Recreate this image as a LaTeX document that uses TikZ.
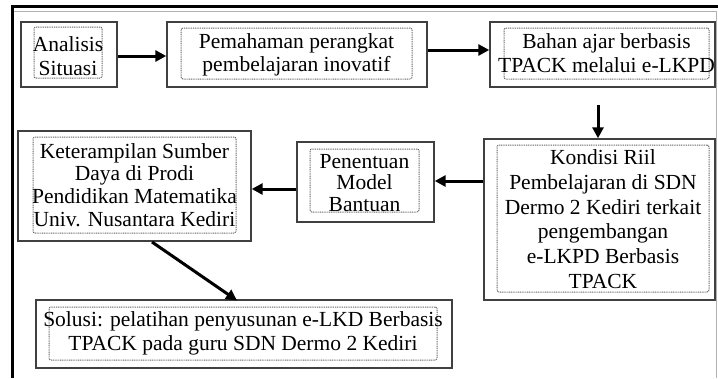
\documentclass[tikz,border=0pt]{standalone}
\usepackage{fontspec}
\setmainfont{Liberation Serif}
\usetikzlibrary{arrows.meta}
\tikzset{
  outerbox/.style={draw=black!75, line width=1.4pt, rectangle, inner sep=0pt},
  innerbox/.style={draw=black!60, line width=1pt, dash pattern=on 1pt off 0.8pt, rounded corners=2pt, rectangle, inner sep=0pt},
  label/.style={align=center, inner sep=0pt, font=\fontsize{21.5}{23.5}\selectfont, text=black},
  flow/.style={line width=3pt, -{Triangle[length=11pt,width=11pt]}},
  frameline/.style={line width=3pt, black},
  thinframe/.style={line width=0.8pt, black!30}
}
\begin{document}
\begin{tikzpicture}[x=1pt,y=-1pt]
\useasboundingbox (0,0) rectangle (718,378);
% frame
\draw[thinframe] (12,11) -- (716,11) -- (716,378);
\draw[frameline] (12,378) -- (12,6) -- (718,6);

% row 1
\node[outerbox, minimum width=96, minimum height=65] (o1) at (69,54.5) {};
\node[innerbox, minimum width=68, minimum height=51] (i1) at (68,52.5) {};
\node[label] (t1) at (68,56) {Analisis\\Situasi};

\node[outerbox, minimum width=260, minimum height=65] (o2) at (297,54.5) {};
\node[innerbox, minimum width=231, minimum height=51] (i2) at (296.5,53.5) {};
\node[label] (t2) at (296.5,55) {Pemahaman perangkat\\pembelajaran inovatif};

\node[outerbox, minimum width=225, minimum height=65] (o3) at (602.5,54.5) {};
\node[innerbox, minimum width=205, minimum height=51] (i3) at (606.5,53.5) {};
\node[label] (t3) at (606.5,53) {Bahan ajar berbasis\\TPACK melalui e-LKPD};

% row 2
\node[outerbox, minimum width=231, minimum height=161] (o4) at (599.5,219.5) {};
\node[innerbox, minimum width=212, minimum height=147] (i4) at (603,218.5) {};
\node[label, font=\fontsize{21.5}{24.7}\selectfont] (t4) at (603,219) {Kondisi Riil\\Pembelajaran di SDN\\Dermo 2 Kediri terkait\\pengembangan\\e-LKPD Berbasis\\TPACK};

\node[outerbox, minimum width=137, minimum height=80] (o5) at (365.5,182) {};
\node[innerbox, minimum width=109, minimum height=63] (i5) at (364.5,180.5) {};
\node[label, font=\fontsize{21.5}{21.7}\selectfont] (t5) at (364.5,183) {Penentuan\\Model\\Bantuan};

\node[outerbox, minimum width=233, minimum height=110] (o6) at (134.5,186) {};
\node[innerbox, minimum width=203, minimum height=96] (i6) at (134.5,185) {};
\node[label, font=\fontsize{21.5}{22.7}\selectfont] (t6) at (134.5,185) {Keterampilan Sumber\\Daya di Prodi\\Pendidikan Matematika\\Univ. Nusantara Kediri};

% row 3
\node[outerbox, minimum width=416, minimum height=68] (o7) at (244,334) {};
\node[innerbox, minimum width=388, minimum height=53] (i7) at (243,333.5) {};
\node[label, font=\fontsize{21.5}{24}\selectfont] (t7) at (243,333) {Solusi: pelatihan penyusunan e-LKD Berbasis\\TPACK pada guru SDN Dermo 2 Kediri};

% connectors
\draw[flow] (o1.east |- 0,56) -- (o2.west |- 0,56);
\draw[flow] (o2.east |- 0,50) -- (o3.west |- 0,50);
\coordinate (a3) at (598,105);
\draw[flow] (a3) -- (o4.north -| a3);
\draw[flow] (o4.west |- 0,181) -- (o5.east |- 0,181);
\draw[flow] (o5.west |- 0,189) -- (o6.east |- 0,189);
\coordinate (a6) at (152,242);
\draw[flow] (a6) -- (237,300.5);
\end{tikzpicture}
\end{document}
